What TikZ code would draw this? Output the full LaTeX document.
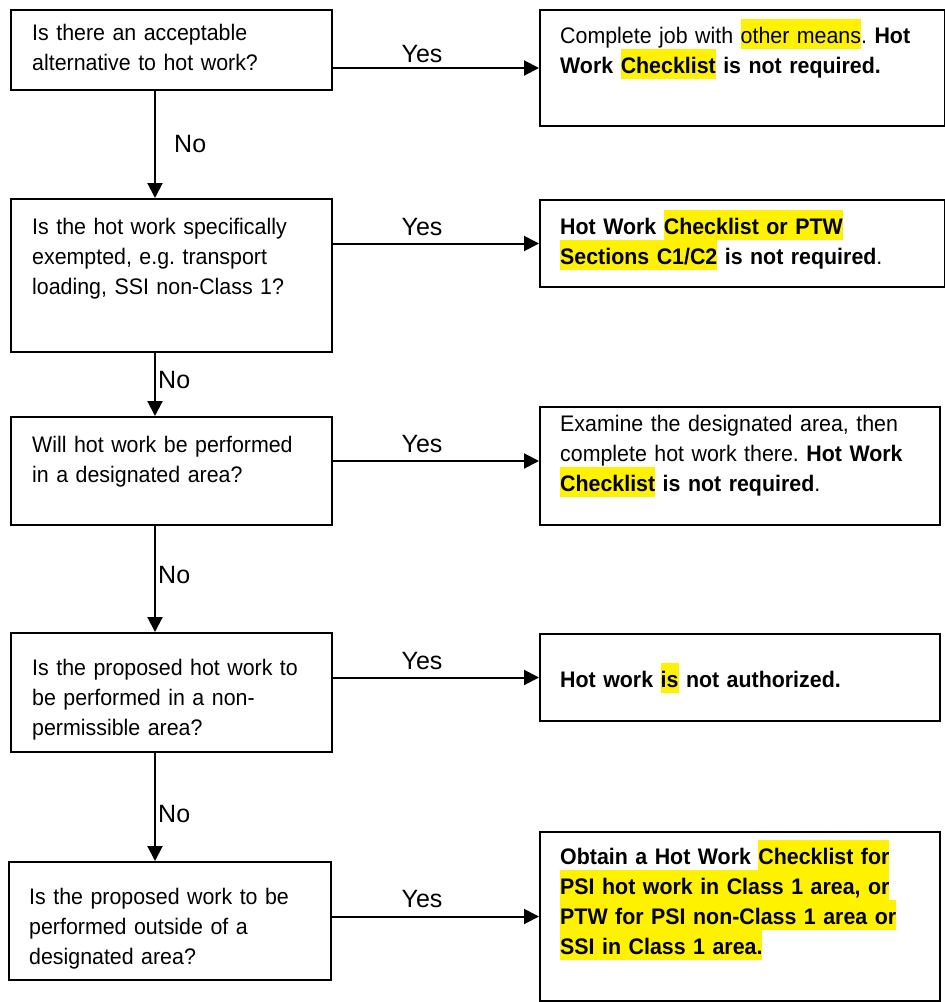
\documentclass[tikz,border=0pt]{standalone}
\usepackage{fontspec}
\setmainfont[FakeStretch=0.95]{Liberation Sans}
\newfontfamily\lblfont{Liberation Sans}
\usetikzlibrary{arrows.meta}
\newcommand{\hlt}[1]{{\setlength{\fboxsep}{0pt}\colorbox{yellow}{\vrule height 24.5pt depth 5.5pt width 0pt #1}}}
\newcommand{\fs}{\fontsize{22.5pt}{30pt}\selectfont\frenchspacing}
\newcommand{\lfs}{\lblfont\fontsize{25pt}{30pt}\selectfont}
\begin{document}
\begin{tikzpicture}[x=1pt,y=-1pt,
  box/.style={draw, line width=2pt, rectangle, inner sep=0pt, anchor=north west},
  txt/.style={anchor=base west, inner sep=0pt, text width=390pt, align=left, font=\fs},
  lbl/.style={inner sep=0pt, font=\lfs},
  arr/.style={line width=2pt, -{Triangle[length=15pt,width=15pt]}}]
\useasboundingbox (0,0) rectangle (945,1002);
% left question boxes
\node[box, minimum width=321pt, minimum height=80pt]  (q1) at (10,9) {};
\node[box, minimum width=321pt, minimum height=153pt] (q2) at (10,198) {};
\node[box, minimum width=321pt, minimum height=108pt] (q3) at (10,416) {};
\node[box, minimum width=321pt, minimum height=119pt] (q4) at (10,632) {};
\node[box, minimum width=322pt, minimum height=118pt] (q5) at (8,861) {};
% right result boxes
\node[box, minimum width=405pt, minimum height=116pt] (r1) at (539,9) {};
\node[box, minimum width=405pt, minimum height=87pt]  (r2) at (539,199) {};
\node[box, minimum width=400pt, minimum height=118pt] (r3) at (539,406) {};
\node[box, minimum width=400pt, minimum height=87pt]  (r4) at (539,633) {};
\node[box, minimum width=400pt, minimum height=169pt] (r5) at (539,831) {};
% texts
\node[txt] (tq1) at (32,40.5) {Is there an acceptable\\alternative to hot work?};
\node[txt] (tq2) at (32,234) {Is the hot work specifically\\exempted, e.g. transport\\loading, SSI non-Class 1?};
\node[txt] (tq3) at (32,452) {Will hot work be performed\\in a designated area?};
\node[txt] (tq4) at (32,675) {Is the proposed hot work to\\be performed in a non-\\permissible area?};
\node[txt] (tq5) at (29,904) {Is the proposed work to be\\performed outside of a\\designated area?};
\node[txt] (tr1) at (560,43.5) {Complete job with \hlt{other means}. \textbf{Hot}\\\textbf{Work \hlt{Checklist} is not required.}};
\node[txt] (tr2) at (560,234) {\textbf{Hot Work \hlt{Checklist or PTW}}\\\textbf{\hlt{Sections C1/C2} is not required}.};
\node[txt] (tr3) at (560,431) {Examine the designated area, then\\complete hot work there. \textbf{Hot Work}\\\textbf{\hlt{Checklist} is not required}.};
\node[txt] (tr4) at (560,687) {\textbf{Hot work \hlt{is} not authorized.}};
\node[txt] (tr5) at (560,864) {\textbf{Obtain a Hot Work \hlt{Checklist for}}\\\textbf{\hlt{PSI hot work in Class 1 area, or}}\\\textbf{\hlt{PTW for PSI non-Class 1 area or}}\\\textbf{\hlt{SSI in Class 1 area.}}};
% Yes connectors
\coordinate (a3) at ([yshift=5pt]r3.west);
\draw[arr] (q1.east |- r1.west) -- (r1.west);
\draw[arr] (q2.east |- r2.west) -- (r2.west);
\draw[arr] (q3.east |- a3) -- (a3);
\draw[arr] (q4.east |- r4.west) -- (r4.west);
\draw[arr] (q5.east |- r5.west) -- (r5.west);
\node[lbl] (y1) at (422,54) {Yes};
\node[lbl] (y2) at (422,227) {Yes};
\node[lbl] (y3) at (422,444) {Yes};
\node[lbl] (y4) at (422,661) {Yes};
\node[lbl] (y5) at (422,899) {Yes};
% No connectors
\draw[arr] ([xshift=145pt]q1.south west) -- ([xshift=145pt]q2.north west);
\draw[arr] ([xshift=145pt]q2.south west) -- ([xshift=145pt]q3.north west);
\draw[arr] ([xshift=145pt]q3.south west) -- ([xshift=145pt]q4.north west);
\draw[arr] ([xshift=145pt]q4.south west) -- ([xshift=147pt]q5.north west);
\node[lbl, anchor=west] (n1) at (174,144) {No};
\node[lbl, anchor=west] (n2) at (158,380) {No};
\node[lbl, anchor=west] (n3) at (158,575) {No};
\node[lbl, anchor=west] (n4) at (158,814) {No};
\end{tikzpicture}
\end{document}
